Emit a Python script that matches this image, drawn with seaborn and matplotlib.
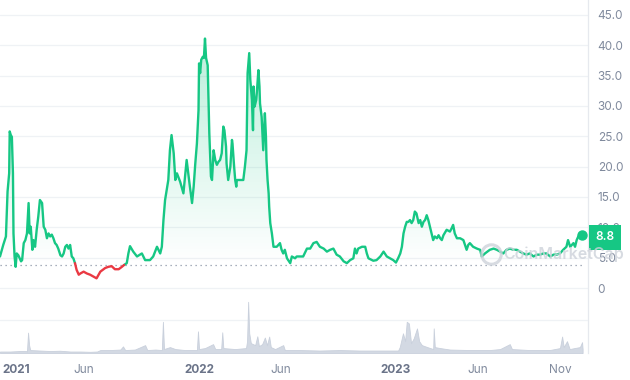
import numpy as np
import pandas as pd
import seaborn as sns
import matplotlib.pyplot as plt
import matplotlib.dates as mdates
import matplotlib.transforms as mtransforms
from matplotlib.colors import LinearSegmentedColormap

START = pd.Timestamp('2021-01-01')

# price, days since START
price_days = [-4, 2, 7, 10, 13, 14, 16, 18, 20, 21, 23, 25, 27, 30, 35, 37, 40, 43, 46, 49,
              51, 53, 56, 58, 61, 64, 67, 70, 74, 77, 80, 83, 86, 89, 92, 95, 98, 101, 104, 108,
              111, 114, 117, 120, 123, 126, 129, 132, 135, 138, 142, 145, 151, 157, 163, 169, 175, 182, 191, 197,
              203, 209, 216, 222, 226, 231, 234, 237, 243, 250, 259, 265, 274, 280, 287, 293, 296, 299, 302, 305,
              308, 311, 314, 318, 321, 324, 330, 336, 342, 348, 352, 355, 358, 361, 364, 365, 367, 369, 372, 374,
              376, 378, 381, 382, 384, 387, 389, 392, 395, 398, 401, 404, 407, 410, 412, 415, 416, 419, 423, 426,
              427, 430, 432, 434, 435, 441, 447, 450, 453, 455, 458, 460, 463, 465, 466, 468, 471, 472, 475, 477,
              478, 481, 484, 487, 489, 490, 492, 494, 495, 497, 500, 503, 509, 515, 518, 521, 524, 528, 534, 537,
              543, 546, 552, 558, 565, 571, 577, 583, 589, 596, 602, 608, 614, 620, 626, 633, 639, 645, 651, 654,
              657, 660, 667, 673, 676, 679, 688, 694, 701, 707, 713, 719, 725, 730, 734, 738, 741, 744, 747, 750,
              753, 756, 759, 762, 765, 768, 772, 775, 778, 781, 784, 787, 790, 793, 796, 799, 802, 806, 809, 812,
              815, 818, 824, 830, 833, 836, 839, 843, 849, 855, 861, 864, 867, 873, 880, 886, 889, 895, 904, 911,
              917, 923, 929, 935, 941, 948, 954, 960, 966, 972, 978, 985, 991, 997, 1003, 1009, 1016, 1022, 1028, 1034,
              1040, 1046, 1049, 1053, 1056, 1059, 1062, 1065, 1068, 1071, 1074]
price_vals = [5.2, 7.1, 8.5, 15.9, 18.9, 25.8, 25.2, 24.9, 18.9, 9.0, 5.2, 3.5, 5.7, 5.4, 4.4, 4.6, 7.4, 7.9, 9.0, 14.0,
              9.0, 10.1, 6.3, 7.9, 6.8, 9.6, 11.8, 14.5, 14.0, 10.1, 9.6, 8.2, 9.0, 8.5, 8.8, 8.2, 7.4, 7.1, 6.5, 5.4,
              5.2, 5.7, 6.8, 7.1, 6.5, 7.1, 5.2, 4.9, 4.1, 3.0, 2.2, 2.4, 2.7, 2.4, 2.2, 1.9, 1.6, 2.7, 3.3, 3.5,
              3.6, 3.1, 3.1, 3.5, 3.8, 4.1, 5.7, 6.9, 6.0, 5.2, 5.7, 4.6, 4.6, 5.2, 6.8, 5.7, 6.8, 11.2, 14.5, 16.2,
              17.8, 22.7, 25.2, 22.2, 17.8, 18.9, 17.5, 15.6, 21.1, 16.7, 14.0, 16.7, 20.5, 23.8, 29.3, 37.0, 35.4, 37.6, 38.1, 37.9,
              41.1, 37.9, 36.7, 33.2, 25.5, 18.4, 17.8, 22.7, 21.1, 20.3, 20.8, 21.1, 22.2, 26.6, 26.0, 23.3, 20.5, 17.8, 20.0, 24.4,
              23.8, 20.0, 17.8, 16.7, 17.8, 17.8, 17.8, 20.0, 22.7, 35.4, 38.7, 34.3, 31.0, 26.0, 33.2, 29.9, 31.0, 32.1, 35.9, 33.2,
              30.4, 28.2, 22.7, 28.8, 24.9, 21.1, 17.8, 15.6, 13.4, 10.7, 9.0, 6.8, 6.8, 7.4, 6.3, 5.7, 6.3, 4.9, 4.1, 5.2,
              4.9, 5.2, 5.2, 5.2, 6.5, 6.5, 7.4, 7.6, 6.8, 6.5, 6.0, 6.3, 6.5, 5.5, 5.2, 4.4, 4.1, 4.6, 4.9, 6.5,
              5.7, 6.5, 6.8, 6.8, 5.7, 4.9, 4.5, 4.6, 5.2, 6.0, 5.2, 4.9, 4.6, 4.2, 4.9, 5.7, 6.8, 9.0, 10.1, 10.9,
              10.9, 11.2, 10.7, 11.2, 12.6, 12.3, 10.7, 11.2, 10.1, 10.9, 11.2, 12.0, 11.2, 10.1, 9.0, 7.9, 8.5, 8.2, 8.7, 8.2,
              7.9, 8.7, 9.6, 9.3, 9.8, 10.4, 9.0, 8.2, 8.2, 7.9, 6.3, 7.1, 7.4, 6.8, 6.5, 6.3, 5.2, 5.7, 6.3, 6.5,
              6.3, 6.0, 5.7, 6.3, 6.5, 6.3, 6.3, 6.0, 5.7, 5.5, 5.7, 5.2, 5.5, 5.5, 5.7, 5.7, 5.2, 5.5, 5.5, 5.7,
              6.3, 6.8, 7.9, 6.8, 7.1, 7.4, 6.8, 7.9, 8.5, 8.5, 8.8]

vol_days = [-4, 15, 33, 44, 46, 48, 50, 52, 70, 89, 107, 126, 145, 163, 176, 182, 200, 219, 224, 228,
            246, 265, 269, 284, 296, 298, 300, 311, 321, 339, 361, 363, 365, 376, 391, 395, 406, 408, 410, 432,
            452, 454, 456, 458, 461, 469, 473, 476, 482, 487, 491, 495, 498, 506, 521, 524, 552, 589, 626, 663,
            700, 734, 737, 743, 747, 750, 754, 758, 763, 769, 773, 778, 788, 799, 800, 802, 812, 830, 867, 904,
            923, 941, 945, 978, 1015, 1034, 1038, 1041, 1047, 1052, 1061, 1071, 1075, 1076]
vol_vals = [1.5, 1.5, 2, 2, 1.5, 20.7, 8, 3, 2.5, 2, 2.3, 1.5, 1.5, 1.2, 1.5, 3, 3, 3.5, 6.7, 3,
            3.5, 8, 3, 3.5, 3, 31.7, 4, 6, 4, 3, 3, 22, 4, 5, 9, 4, 4, 21, 5, 4,
            5, 12, 52, 20, 10, 8, 17, 7, 9, 15.7, 8, 16.7, 6, 4, 8, 3, 3, 2.5, 3, 2.5,
            2.5, 2.5, 6, 20, 12, 31.7, 30, 10, 15, 25, 12, 8, 6, 4, 25, 6, 5, 3.5, 3, 3,
            4, 9, 4, 3, 3, 5, 16.7, 6, 12, 4, 5, 6, 11, 4]

base_price = 3.8
last_label = '8.8'
y_ticks = [0, 5, 10, 15, 20, 25, 30, 35, 40, 45]
x_tick_dates = ['2021-01-01', '2021-06-01', '2022-01-01', '2022-06-01', '2023-01-01', '2023-06-01', '2023-11-01']
x_tick_labels = ['2021', 'Jun', '2022', 'Jun', '2023', 'Jun', 'Nov']

GREEN = '#16c784'
RED = '#ea3943'
GRID = '#eff2f5'
GRAY = '#808a9d'

sns.set_style('white')
plt.rcParams['font.family'] = ['Inter', 'DejaVu Sans']

df = pd.DataFrame({'date': START + pd.to_timedelta(price_days, unit='D'), 'price': price_vals})
vol = pd.DataFrame({'date': START + pd.to_timedelta(vol_days, unit='D'), 'volume': vol_vals})

# split line into runs above / below the starting price
p = df.price.values
below = (p[:-1] + p[1:]) / 2 < base_price
runs = []
i0 = 0
for i in range(1, len(below) + 1):
    if i == len(below) or below[i] != below[i0]:
        seg = df.iloc[i0:i + 1].copy()
        seg['run'] = len(runs)
        seg['trend'] = 'down' if below[i0] else 'up'
        runs.append(seg)
        i0 = i
seg_df = pd.concat(runs, ignore_index=True)

fig = plt.figure(figsize=(6.3, 3.8), dpi=100)
ax = fig.add_axes([0, 27 / 380, 588 / 630, 353 / 380])
vax = fig.add_axes([0, 27 / 380, 588 / 630, 65 / 380], sharex=ax)
vax.patch.set_alpha(0)

# gradient area under the price line
fb = ax.fill_between(df.date, df.price, base_price, color='none', lw=0)
cmap = LinearSegmentedColormap.from_list('g', [(0.086, 0.78, 0.52, 0.0), (0.086, 0.78, 0.52, 0.32)])
x0, x1 = mdates.date2num(df.date.iloc[0]), mdates.date2num(df.date.iloc[-1])
img = ax.imshow(np.linspace(0, 1, 256).reshape(-1, 1), cmap=cmap, aspect='auto',
                extent=[x0, x1, base_price, 45], origin='lower', zorder=1)
img.set_clip_path(fb.get_paths()[0], ax.transData)

ax.plot([df.date.iloc[0], df.date.iloc[-1]], [base_price, base_price], ls=(0, (1, 3)),
        color='#8c96a8', lw=0.9, zorder=1.5)

sns.lineplot(data=seg_df, x='date', y='price', hue='trend', units='run', estimator=None,
             palette={'up': GREEN, 'down': RED}, lw=1.7, legend=False, sort=False, ax=ax, zorder=3)
ax.plot(df.date.iloc[-1], df.price.iloc[-1], 'o', color=GREEN, ms=6.5, zorder=4)

ax.set_ylim(-10.7, 47.45)
ax.set_xlim(df.date.iloc[0], df.date.iloc[-1] + pd.Timedelta(days=12))
ax.set_yticks(y_ticks)
ax.set_yticklabels(['0' if v == 0 else f'{v:.1f}' for v in y_ticks])
ax.yaxis.tick_right()
ax.tick_params(axis='y', length=0, pad=7, labelsize=8.5, labelcolor=GRAY)
ax.tick_params(axis='x', bottom=False, labelbottom=False)
ax.grid(axis='y', color=GRID, lw=0.9)
ax.set_axisbelow(True)
for s in ['top', 'left', 'bottom']:
    ax.spines[s].set_visible(False)
ax.spines['right'].set_color('#e6e9ee')
ax.spines['right'].set_linewidth(0.9)
ax.set_xlabel('')
ax.set_ylabel('')

# current price tag
tr = mtransforms.blended_transform_factory(ax.transAxes, ax.transData)
ax.text(1.013, df.price.iloc[-1] - 0.4, last_label, transform=tr, ha='left', va='center', color='white',
        fontsize=8.5, fontweight='semibold', clip_on=False, zorder=6,
        bbox=dict(boxstyle='square,pad=0.55', fc=GREEN, ec='none'))

# volume
vax.fill_between(vol.date, vol.volume, 0, color='#d3d9e3', lw=0.6, edgecolor='#c9d0dc')
vax.set_ylim(0, 66)
vax.set_yticks([34])
vax.grid(axis='y', color=GRID, lw=0.9)
vax.set_axisbelow(True)
vax.tick_params(axis='y', left=False, labelleft=False, right=False, labelright=False)
for s in vax.spines.values():
    s.set_visible(False)
vax.set_xticks(pd.to_datetime(x_tick_dates))
vax.set_xticklabels(x_tick_labels)
vax.tick_params(axis='x', length=0, pad=8, labelsize=8.5)
for lab in vax.get_xticklabels():
    if lab.get_text().isdigit():
        lab.set_fontweight('bold')
        lab.set_color('#6b7489')
    else:
        lab.set_color(GRAY)
vax.get_xticklabels()[0].set_ha('left')

# watermark
ax.plot([491 / 630], [1 - 254 / 380], 'o', transform=fig.transFigure, mfc='none', mec='#cdd2da',
        ms=14, mew=2.2, alpha=0.8, clip_on=False, zorder=5)
fig.text(503 / 630, 1 - 254 / 380, 'CoinMarketCap', ha='left', va='center', fontsize=11.5,
         fontweight='semibold', color='#cdd2da', alpha=0.8, zorder=5)

fig.savefig('out.png', dpi=100)
